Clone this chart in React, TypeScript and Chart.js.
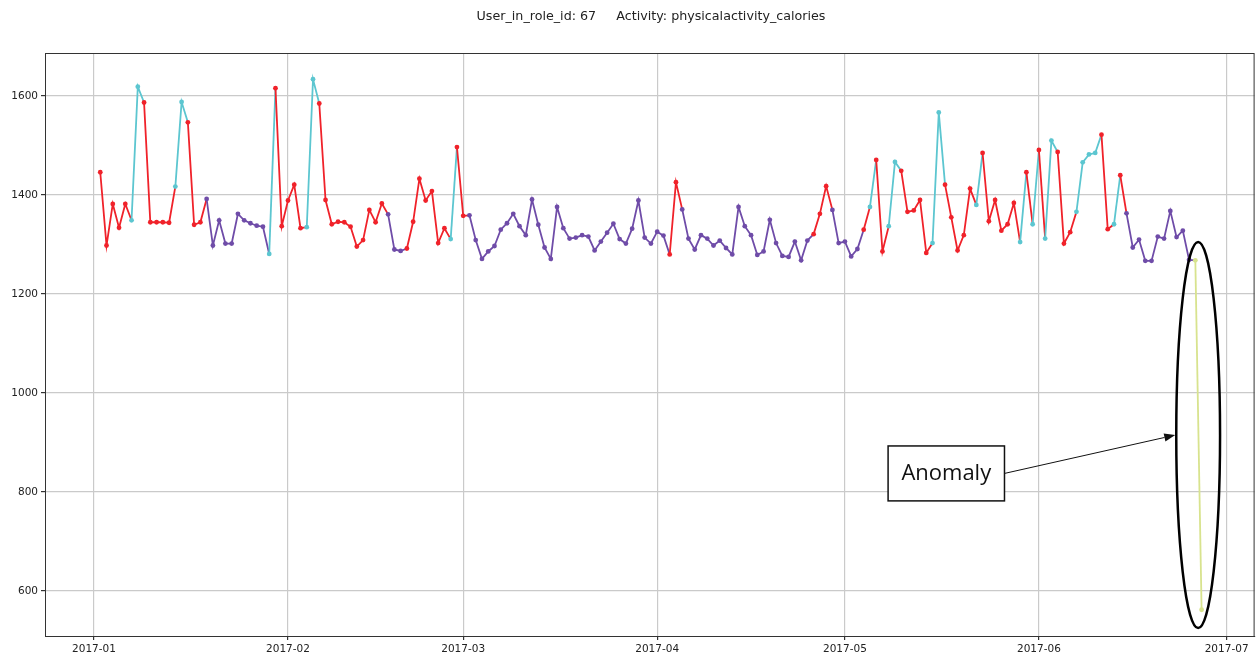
import React, { useEffect, useRef } from 'react';
import { Chart, registerables } from 'chart.js';

Chart.register(...registerables);

// ---- data ----
const titleText = 'User_in_role_id: 67     Activity: physicalactivity_calories';
const firstDate = '2017-01-02';

const calories = [
  1446, 1298, 1382, 1334, 1382, 1349, 1619, 1587, 1345, 1345,
  1345, 1344, 1417, 1588, 1547, 1340, 1345, 1392, 1298, 1349,
  1302, 1302, 1362, 1349, 1343, 1338, 1336, 1281, 1616, 1337,
  1389, 1421, 1333, 1335, 1634, 1585, 1390, 1341, 1346, 1345,
  1336, 1296, 1309, 1370, 1345, 1383, 1361, 1290, 1287, 1292,
  1346, 1433, 1389, 1408, 1303, 1333, 1311, 1497, 1358, 1359,
  1309, 1271, 1286, 1297, 1330, 1343, 1362, 1337, 1319, 1391,
  1340, 1294, 1271, 1376, 1333, 1312, 1314, 1319, 1316, 1288,
  1306, 1324, 1342, 1311, 1302, 1332, 1389, 1314, 1302, 1326,
  1318, 1280, 1426, 1371, 1312, 1290, 1319, 1312, 1298, 1308,
  1293, 1280, 1376, 1337, 1319, 1279, 1286, 1350, 1303, 1277,
  1275, 1306, 1268, 1308, 1321, 1362, 1418, 1370, 1303, 1306,
  1276, 1291, 1330, 1376, 1471, 1286, 1337, 1467, 1449, 1366,
  1369, 1390, 1283, 1303, 1567, 1421, 1355, 1288, 1319, 1413,
  1380, 1485, 1347, 1390, 1328, 1341, 1384, 1305, 1446, 1341,
  1491, 1312, 1510, 1487, 1302, 1325, 1366, 1466, 1482, 1485,
  1522, 1331, 1341, 1440, 1363, 1294, 1310, 1267, 1267, 1316,
  1312, 1368, 1315, 1328, 1269, 1268, 562,
];

// cluster label of each point (r = red, c = cyan, p = purple, y = anomaly)
const clusterLabels = (
  'rrrrr' + 'cc' + 'rrrrr' + 'cc' + 'rrr' + 'pppppppppp' + 'c' + 'rrrrr' + 'cc' +
  'rrrrrrrrrrr' + 'ppp' + 'rrrrrrr' + 'c' + 'rr' +
  'pppppppppppppppppppppppppppppppp' + 'rr' + 'ppppppppppppppppppppp' + 'rrr' +
  'ppppp' + 'r' + 'c' + 'rr' + 'cc' + 'rrrrr' + 'cc' + 'rrrrr' + 'c' + 'rrrrrr' +
  'c' + 'r' + 'c' + 'r' + 'cc' + 'rrr' + 'cccc' + 'rr' + 'c' + 'r' +
  'ppppppppppp' + 'yy'
).split('');

const monthTickLabels = ['2017-01', '2017-02', '2017-03', '2017-04', '2017-05', '2017-06', '2017-07'];
const yTickValues = [600, 800, 1000, 1200, 1400, 1600];

const clusterColors: Record<string, string> = {
  r: '#f0222a',
  c: '#5cc6d0',
  p: '#6f4ca8',
  y: '#d8e38e',
};

// ---- helpers ----
const DAY = 86400000;
const origin = Date.UTC(2017, 0, 1);
const dayOf = (iso: string) => {
  const [y, m, d] = iso.split('-').map(Number);
  return Math.round((Date.UTC(y, m - 1, d || 1) - origin) / DAY);
};
const startDay = dayOf(firstDate);
const monthTickDays = monthTickLabels.map((s) => dayOf(s + '-01'));

const points = calories.map((v, i) => ({ x: startDay + i, y: v }));

// annotation placement (data units)
const anomalyEllipse = { day: 176.45, value: 915, halfDays: 3.5, halfValue: 390 };
const anomalyBox = { left: 126.9, right: 145.5, top: 893, bottom: 782, textSize: 22 };

const framePlugin = {
  id: 'frameAndNotes',
  afterDraw(chart: any) {
    const { ctx, chartArea: a, scales } = chart;
    const xs = scales.x;
    const ys = scales.y;
    ctx.save();
    // frame
    ctx.strokeStyle = '#333333';
    ctx.lineWidth = 1;
    ctx.strokeRect(a.left + 0.5, a.top + 0.5, a.right - a.left - 1, a.bottom - a.top);

    // title
    ctx.fillStyle = '#222222';
    ctx.font = '12.7px "DejaVu Sans", sans-serif';
    ctx.textAlign = 'center';
    ctx.textBaseline = 'middle';
    ctx.fillText(titleText, 651, 17);

    // ellipse
    const cx = xs.getPixelForValue(anomalyEllipse.day);
    const cy = ys.getPixelForValue(anomalyEllipse.value);
    const rx = Math.abs(xs.getPixelForValue(anomalyEllipse.day + anomalyEllipse.halfDays) - cx);
    const ry = Math.abs(ys.getPixelForValue(anomalyEllipse.value + anomalyEllipse.halfValue) - cy);
    ctx.beginPath();
    ctx.ellipse(cx, cy, rx, ry, 0, 0, Math.PI * 2);
    ctx.strokeStyle = '#000000';
    ctx.lineWidth = 2.5;
    ctx.stroke();

    // box
    const bl = xs.getPixelForValue(anomalyBox.left);
    const br = xs.getPixelForValue(anomalyBox.right);
    const bt = ys.getPixelForValue(anomalyBox.top);
    const bb = ys.getPixelForValue(anomalyBox.bottom);
    ctx.fillStyle = '#ffffff';
    ctx.fillRect(bl, bt, br - bl, bb - bt);
    ctx.lineWidth = 1.5;
    ctx.strokeStyle = '#111111';
    ctx.strokeRect(bl, bt, br - bl, bb - bt);
    ctx.fillStyle = '#111111';
    ctx.font = `${anomalyBox.textSize}px "Open Sans", sans-serif`;
    ctx.textAlign = 'center';
    ctx.textBaseline = 'middle';
    ctx.fillText('Anomaly', (bl + br) / 2, (bt + bb) / 2);

    // arrow
    const sx = br;
    const sy = bt + (bb - bt) * 0.5;
    const tx = cx - rx - 1;
    const ty = cy;
    const ang = Math.atan2(ty - sy, tx - sx);
    const hl = 11;
    const hw = 4;
    ctx.beginPath();
    ctx.moveTo(sx, sy);
    ctx.lineTo(tx - hl * Math.cos(ang), ty - hl * Math.sin(ang));
    ctx.lineWidth = 1;
    ctx.strokeStyle = '#111111';
    ctx.stroke();
    ctx.beginPath();
    ctx.moveTo(tx, ty);
    ctx.lineTo(tx - hl * Math.cos(ang) + hw * Math.sin(ang), ty - hl * Math.sin(ang) - hw * Math.cos(ang));
    ctx.lineTo(tx - hl * Math.cos(ang) - hw * Math.sin(ang), ty - hl * Math.sin(ang) + hw * Math.cos(ang));
    ctx.closePath();
    ctx.fillStyle = '#111111';
    ctx.fill();
    ctx.restore();
  },
};

export default function App() {
  const ref = useRef<HTMLCanvasElement | null>(null);

  useEffect(() => {
    document.body.style.margin = '0';
    if (!ref.current) return;
    const pointColors = clusterLabels.map((c) => clusterColors[c]);
    const chart = new Chart(ref.current, {
      type: 'line',
      data: {
        datasets: [
          {
            data: points,
            borderWidth: 1.8,
            pointRadius: 2.4,
            pointHoverRadius: 2.4,
            pointBorderWidth: 0,
            pointBackgroundColor: pointColors,
            pointBorderColor: pointColors,
            borderColor: pointColors[0],
            segment: {
              borderColor: (ctx: any) => pointColors[ctx.p0DataIndex],
            },
            tension: 0,
          },
        ],
      },
      options: {
        responsive: false,
        animation: false,
        events: [],
        layout: { padding: { top: 53, right: 2, left: 0, bottom: 0 } },
        plugins: {
          legend: { display: false },
          tooltip: { enabled: false },
          title: { display: false },
        },
        scales: {
          x: {
            type: 'linear',
            min: -7.83,
            max: 185.47,
            afterBuildTicks: (scale: any) => {
              scale.ticks = monthTickDays.map((v) => ({ value: v }));
            },
            afterFit: (scale: any) => {
              scale.height = 20;
            },
            ticks: {
              autoSkip: false,
              maxRotation: 0,
              padding: 3,
              color: '#222222',
              font: { family: '"DejaVu Sans", sans-serif', size: 10.5 },
              callback: (v: any) => {
                const i = monthTickDays.indexOf(Number(v));
                return i >= 0 ? monthTickLabels[i] : '';
              },
            },
            grid: { color: '#cacaca', lineWidth: 1.2, tickLength: 4, tickColor: '#333333' },
            border: { display: true, color: '#333333', width: 1 },
          },
          y: {
            type: 'linear',
            min: 509,
            max: 1687,
            afterBuildTicks: (scale: any) => {
              scale.ticks = yTickValues.map((v) => ({ value: v }));
            },
            afterFit: (scale: any) => {
              scale.width = 45;
            },
            ticks: {
              padding: 3,
              color: '#222222',
              font: { family: '"DejaVu Sans", sans-serif', size: 10.5 },
              callback: (v: any) => String(v),
            },
            grid: { color: '#cacaca', lineWidth: 1.2, tickLength: 4, tickColor: '#333333' },
            border: { display: true, color: '#333333', width: 1 },
          },
        },
      },
      plugins: [framePlugin],
    });
    return () => chart.destroy();
  }, []);

  return (
    <div style={{ position: 'fixed', left: 0, top: 0, width: 1257, height: 656, background: '#ffffff' }}>
      <canvas ref={ref} width={1257} height={656} style={{ width: 1257, height: 656 }} />
    </div>
  );
}
